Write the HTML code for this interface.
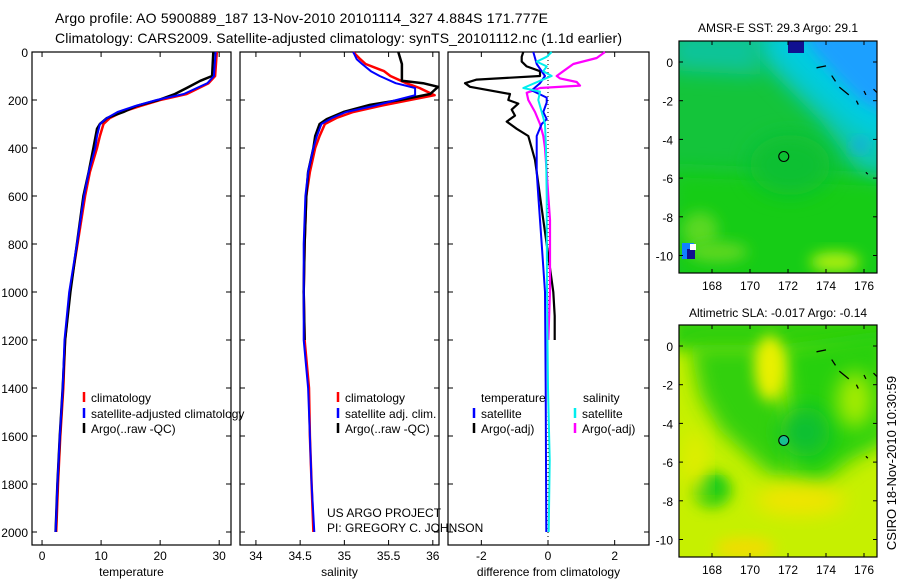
<!DOCTYPE html>
<html><head><meta charset="utf-8"><style>
html,body{margin:0;padding:0;background:#fff;}
svg{display:block;font-family:"Liberation Sans",sans-serif;}
</style></head><body>
<svg id="fig" width="900" height="580" viewBox="0 0 900 580" xmlns="http://www.w3.org/2000/svg">
<defs>
<clipPath id="m1c"><rect x="679" y="41" width="198" height="232"/></clipPath>
<clipPath id="m2c"><rect x="679" y="325" width="198" height="232"/></clipPath>
<filter id="bl1" x="-50%" y="-50%" width="200%" height="200%"><feGaussianBlur stdDeviation="10"/></filter>
<filter id="bl2" x="-50%" y="-50%" width="200%" height="200%"><feGaussianBlur stdDeviation="7"/></filter>
</defs>
<text x="55" y="23" font-size="14" textLength="493">Argo profile: AO 5900889_187 13-Nov-2010 20101114_327 4.884S 171.777E</text>
<text x="55" y="43" font-size="14" textLength="567">Climatology: CARS2009. Satellite-adjusted climatology: synTS_20101112.nc (1.1d earlier)</text>
<g id="panels"></g>
<g id="maps"></g>
<text transform="translate(896,463) rotate(-90)" text-anchor="middle" font-size="13">CSIRO 18-Nov-2010 10:30:59</text>
</svg>
<script>
// ---- data (depth in m) ----
const tempDepth = [0,100,130,175,200,225,250,275,300,350,400,500,600,800,1000,1200,1400,1600,1800,2000];
const tempClim  = [29.6,29.3,28.2,24.5,20,16.6,13.5,11.5,10.4,9.8,9.3,8.1,7.3,6.0,4.7,3.9,3.6,3.1,2.7,2.4];
const tempSat   = [29.4,29.1,28.0,24.0,19.4,15.8,12.8,11.0,9.8,9.3,9.0,7.9,7.1,5.9,4.6,3.8,3.5,3.0,2.6,2.3];
const argoTDepth= [0,100,120,150,175,200,225,250,275,300,320,400,500,600,800,1000,1200,1400,1600,1800,2000];
const argoTemp  = [29.0,28.8,26.8,24.5,22.5,19.7,16.0,13.8,11.0,9.8,9.3,8.7,7.9,7.0,5.9,4.8,3.9,3.5,3.0,2.6,2.3];

const salDepth  = [0,30,50,80,100,130,150,180,200,225,250,275,300,350,400,500,600,800,1000,1200,1400,1600,1800,2000];
const salClim   = [35.10,35.18,35.24,35.45,35.52,35.70,35.85,36.02,35.74,35.40,35.10,34.91,34.78,34.72,34.67,34.61,34.57,34.55,34.54,34.55,34.60,34.61,34.63,34.65];
const salSat    = [35.10,35.14,35.20,35.30,35.40,35.58,35.80,35.80,35.59,35.33,35.02,34.86,34.74,34.69,34.65,34.59,34.56,34.54,34.54,34.54,34.59,34.61,34.63,34.66];
const argoSDepth= [0,50,100,120,130,145,175,200,220,250,280,300,350,400,500,600,800,1000,1200];
const argoSal   = [35.61,35.65,35.65,35.65,35.89,36.06,35.97,35.63,35.29,34.99,34.80,34.72,34.67,34.65,34.59,34.57,34.55,34.54,34.55];

const dTSatDepth= [0,50,100,130,160,190,210,250,280,300,350,500,600,800,1000,1400,2000];
const dTSat     = [-0.44,-0.34,-0.09,-0.24,-0.49,-0.04,-0.04,-0.14,-0.04,-0.19,-0.34,-0.34,-0.29,-0.19,-0.09,-0.07,-0.05];
const dTArgoDepth=[0,20,40,60,80,100,115,130,145,175,200,215,240,265,290,320,350,400,450,500,600,700,800,900,1000,1100,1200];
const dTArgo    = [-0.74,-0.79,-0.79,-0.64,-0.24,-0.24,-2.14,-2.49,-2.34,-1.14,-1.19,-0.89,-1.09,-0.99,-1.24,-0.94,-0.59,-0.49,-0.39,-0.34,-0.24,-0.14,-0.04,0.06,0.16,0.2,0.2];
const dSSatDepth= [0,20,40,60,80,100,120,150,165,200,250,300,400,600,1000,1400,1700,2000];
const dSSat     = [0.11,-0.04,-0.34,-0.04,-0.14,0.11,-0.24,-0.74,-0.24,-0.29,-0.19,-0.09,-0.06,-0.04,-0.03,0.0,0.05,0.02];
const dSArgoDepth=[0,25,50,80,100,110,125,140,150,170,200,250,300,350,400,500,600,700,800,1000,1200];
const dSArgo    = [1.71,1.46,0.76,0.46,0.26,0.36,0.86,0.96,-0.24,-0.64,-0.59,-0.39,-0.24,-0.14,-0.09,-0.04,0.01,0.06,0.06,0.06,0.01];

const depthTicks = [0,200,400,600,800,1000,1200,1400,1600,1800,2000];
const tempTicks = [0,10,20,30];
const salTicks = [34,34.5,35,35.5,36];
const salTickLabels = ["34","34.5","35","35.5","36"];
const diffTicks = [-2,0,2];
const lonTicks = [168,170,172,174,176];
const latTicks = [0,-2,-4,-6,-8,-10];
const argoLon = 171.777, argoLat = -4.884;

const NS="http://www.w3.org/2000/svg";
function mk(tag, attrs, parent){const e=document.createElementNS(NS,tag);for(const k in attrs)e.setAttribute(k,attrs[k]);parent.appendChild(e);return e;}
const yTop=52, yBot=545;
function yD(d){return 52 + d*0.24;}
const panelsG=document.getElementById('panels');

const panels=[
 {name:'temperature',x0:32,x1:231,v0:-1.7,v1:32.0,ticks:tempTicks,labels:tempTicks.map(String),xlabel:'temperature',depthLabels:true},
 {name:'salinity',x0:240,x1:439,v0:33.82,v1:36.07,ticks:salTicks,labels:salTickLabels,xlabel:'salinity'},
 {name:'difference',x0:448,x1:649,v0:-3.0,v1:3.03,ticks:diffTicks,labels:diffTicks.map(String),xlabel:'difference from climatology'}
];
panels.forEach(p=>{
  p.sx=v=>p.x0+(v-p.v0)/(p.v1-p.v0)*(p.x1-p.x0);
  const g=mk('g',{},panelsG);
  
  
  const r=mk('rect',{x:p.x0,y:yTop,width:p.x1-p.x0,height:yBot-yTop,fill:'#fff',stroke:'#000','stroke-width':1.2},g);
  
  
  depthTicks.forEach(d=>{
    const y=yD(d);
    mk('line',{x1:p.x0,y1:y,x2:p.x0+5,y2:y,stroke:'#000'},g);
    mk('line',{x1:p.x1,y1:y,x2:p.x1-5,y2:y,stroke:'#000'},g);
    if(p.depthLabels){
      const t=mk('text',{x:p.x0-4,y:y+5,'text-anchor':'end','font-size':12},g);
      t.textContent=d;
      
      
    }
  });
  p.ticks.forEach((v,i)=>{
    const x=p.sx(v);
    mk('line',{x1:x,y1:yTop,x2:x,y2:yTop+5,stroke:'#000'},g);
    mk('line',{x1:x,y1:yBot,x2:x,y2:yBot-5,stroke:'#000'},g);
    const t=mk('text',{x:x,y:yBot+15,'text-anchor':'middle','font-size':12},g);
    t.textContent=p.labels[i];
    
    
  });
  const xl=mk('text',{x:(p.x0+p.x1)/2,y:yBot+31,'text-anchor':'middle','font-size':12},g);
  xl.textContent=p.xlabel;
  
  
});
function line(p,dep,vals,color,name,w){
  const pts=dep.map((d,i)=>p.sx(vals[i]).toFixed(1)+','+yD(d).toFixed(1)).join(' ');
  const e=mk('polyline',{points:pts,fill:'none',stroke:color,'stroke-width':w||2,'stroke-linejoin':'round'},panelsG);
  
  
}
const [P1,P2,P3]=panels;
line(P1,tempDepth,tempClim,'#ff0000','temp-climatology-line',2.5);
line(P1,argoTDepth,argoTemp,'#000000','temp-argo-line',2.5);
line(P1,tempDepth,tempSat,'#0000ff','temp-satellite-line',2);
line(P2,salDepth,salClim,'#ff0000','sal-climatology-line',2.5);
line(P2,argoSDepth,argoSal,'#000000','sal-argo-line',2.5);
line(P2,salDepth,salSat,'#0000ff','sal-satellite-line',2);
const zl=mk('line',{x1:P3.sx(0),y1:yTop,x2:P3.sx(0),y2:yBot,stroke:'#000','stroke-dasharray':'1,3'},panelsG);


line(P3,dTArgoDepth,dTArgo,'#000000','diff-temp-argo-line',2.2);
line(P3,dSArgoDepth,dSArgo,'#ff00ff','diff-sal-argo-line',2.2);
line(P3,dTSatDepth,dTSat,'#0000ff','diff-temp-satellite-line',2);
line(P3,dSSatDepth,dSSat,'#00eeee','diff-sal-satellite-line',2);

function legend(x,y,color,label,name){
  const m=mk('line',{x1:x,y1:y-10,x2:x,y2:y,stroke:color,'stroke-width':2.5},panelsG);
  
  
  const t=mk('text',{x:x+7,y:y,'font-size':12},panelsG);
  t.textContent=label;
  
  
}
legend(84,402,'#ff0000','climatology','legend-temp-climatology');
legend(84,418,'#0000ff','satellite-adjusted climatology','legend-temp-satellite');
legend(84,433,'#000000','Argo(..raw -QC)','legend-temp-argo');
legend(338,402,'#ff0000','climatology','legend-sal-climatology');
legend(338,418,'#0000ff','satellite adj. clim.','legend-sal-satellite');
legend(338,433,'#000000','Argo(..raw -QC)','legend-sal-argo');
const lt=mk('text',{x:481,y:402,'font-size':12},panelsG);lt.textContent='temperature';


const ls=mk('text',{x:583,y:402,'font-size':12},panelsG);ls.textContent='salinity';


legend(474,418,'#0000ff','satellite','legend-diff-temp-satellite');
legend(474,433,'#000000','Argo(-adj)','legend-diff-temp-argo');
legend(575,418,'#00eeee','satellite','legend-diff-sal-satellite');
legend(575,433,'#ff00ff','Argo(-adj)','legend-diff-sal-argo');
const c1=mk('text',{x:327,y:517,'font-size':12},panelsG);c1.textContent='US ARGO PROJECT';


const c2=mk('text',{x:327,y:532,'font-size':12},panelsG);c2.textContent='PI: GREGORY C. JOHNSON';



// ---- maps ----
const mapsG=document.getElementById('maps');
function lx(lon){return 712+(lon-168)*19.0;}
const maps=[
 {name:'sst-map',y0:41,y1:273,lat0:62,title:'AMSR-E SST: 29.3 Argo: 29.1',ty:32,clip:'m1c',base:'#14c43a',markFill:'none',
  blobs:[
   ['polygon','740,30 890,30 890,190 860,175 820,120 790,90 760,60','#10c8b0','bl1'],
   ['polygon','760,30 890,30 890,150 850,125 805,85 775,55','#00cce0','bl1'],
   ['polygon','800,30 890,30 890,115 860,100 835,75 812,50','#1aa0ff','bl2'],
   ['polygon','670,30 760,30 760,75 670,70','#10c49a','bl1'],
   ['polygon','670,170 890,180 890,290 670,290','#18cc14','bl1'],
   ['ellipse','790,165 40 30','#10c030','bl1'],
   ['ellipse','700,230 18 18','#5ad820','bl2'],
   ['ellipse','835,262 25 10','#b0f010','bl2'],
   ['ellipse','718,252 30 10','#60d820','bl2'],
   ['ellipse','860,145 7 6','#20a0f0','bl2'],
   ['rect','788,41 16 12','#101090',''],
   ['rect','682,243 12 16','#1080ff',''],
   ['rect','687,249 8 10','#101090',''],
   ['rect','690,244 6 6','#ffffff',''],
  ]},
 {name:'sla-map',y0:325,y1:557,lat0:346,title:'Altimetric SLA: -0.017 Argo: -0.14',ty:317,clip:'m2c',base:'#c6f000',markFill:'#18c090',
  blobs:[
   ['rect','670,315 230 35','#30d010','bl2'],
   ['polygon','690,345 760,345 790,420 800,475 770,475 720,430 700,395','#30d010','bl1'],
   ['polygon','780,345 890,330 890,440 850,460 820,485 790,475 790,420','#28d010','bl1'],
   ['ellipse','770,368 15 33','#eaf000','bl2'],
   ['ellipse','805,432 25 25','#10c030','bl1'],
   ['ellipse','855,400 18 28','#a6ec00','bl1'],
   ['ellipse','712,490 20 18','#30d010','bl2'],
   ['ellipse','710,485 11 5','#10c830','bl2'],
   ['ellipse','800,500 45 15','#f2e400','bl1'],
   ['ellipse','745,548 30 10','#f2dc00','bl2'],
   ['ellipse','695,465 10 35','#e6ec00','bl1'],
  ]}
];
maps.forEach(m=>{
  const g=mk('g',{},mapsG);
  
  
  const ly=lat=>m.lat0-lat*19.35;
  const inner=mk('g',{'clip-path':'url(#'+m.clip+')'},g);
  mk('rect',{x:679,y:m.y0,width:198,height:m.y1-m.y0,fill:m.base},inner);
  m.blobs.forEach(b=>{
    let e;const a=b[1].split(' ');
    if(b[0]==='polygon')e=mk('polygon',{points:b[1],fill:b[2]},inner);
    else if(b[0]==='ellipse'){const xy=a[0].split(',');e=mk('ellipse',{cx:xy[0],cy:xy[1],rx:a[1],ry:a[2],fill:b[2]},inner);}
    else {const xy=a[0].split(',');e=mk('rect',{x:xy[0],y:xy[1],width:a[1],height:a[2],fill:b[2]},inner);}
    if(b[3])e.setAttribute('filter','url(#'+b[3]+')');
  });
  [[173.5,-0.3,174,-0.2],[174.3,-0.7,174.5,-1],[174.7,-1.3,175.2,-1.7],[175.6,-2,175.7,-2.2],[176,-1.5,176.1,-1.7],[176.5,-1.4,176.7,-1.6],[176.1,-5.7,176.2,-5.8]].forEach(c=>{
    mk('line',{x1:lx(c[0]),y1:ly(c[1]),x2:lx(c[2]),y2:ly(c[3]),stroke:'#000','stroke-width':1.3},inner);
  });
  const fr=mk('rect',{x:679,y:m.y0,width:198,height:m.y1-m.y0,fill:'none',stroke:'#000','stroke-width':1.2},g);
  
  
  const mkC=mk('circle',{cx:lx(argoLon),cy:ly(argoLat),r:5,fill:m.markFill,stroke:'#000','stroke-width':1.1},g);
  
  
  lonTicks.forEach(lon=>{
    const x=lx(lon);
    mk('line',{x1:x,y1:m.y0,x2:x,y2:m.y0+4,stroke:'#000'},g);
    mk('line',{x1:x,y1:m.y1,x2:x,y2:m.y1-4,stroke:'#000'},g);
    const t=mk('text',{x:x,y:m.y1+17,'text-anchor':'middle','font-size':12},g);
    t.textContent=lon;
    
    
  });
  latTicks.forEach(lat=>{
    const y=ly(lat);
    mk('line',{x1:679,y1:y,x2:683,y2:y,stroke:'#000'},g);
    mk('line',{x1:877,y1:y,x2:873,y2:y,stroke:'#000'},g);
    const t=mk('text',{x:673,y:y+5,'text-anchor':'end','font-size':12},g);
    t.textContent=lat;
    
    
  });
  const tt=mk('text',{x:778,y:m.ty,'text-anchor':'middle','font-size':12},g);
  tt.textContent=m.title;
  
  
});
</script>
</body></html>
